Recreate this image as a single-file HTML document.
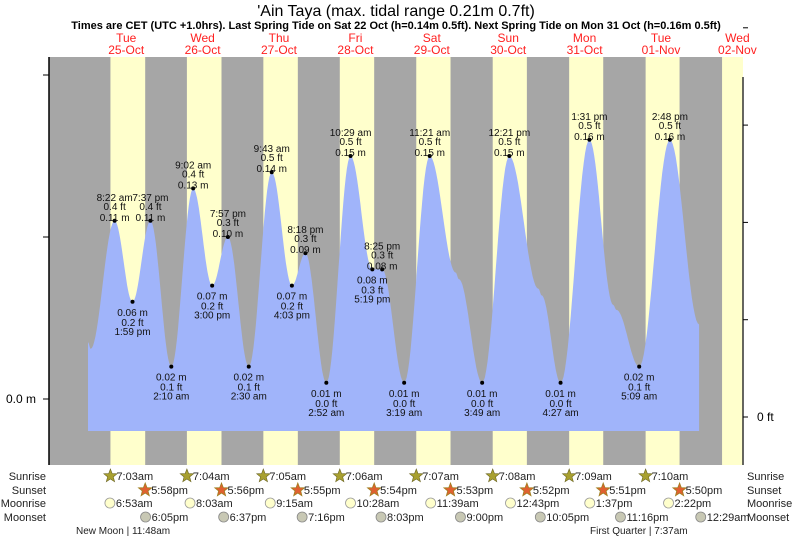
<!DOCTYPE html>
<html><head><meta charset="utf-8"><style>
body{margin:0;background:#fff;font-family:"Liberation Sans",sans-serif}
svg{display:block}
</style></head><body>
<svg id="c" width="793" height="539" xmlns="http://www.w3.org/2000/svg" font-family="Liberation Sans, sans-serif">
<text x="396" y="16" font-size="16" text-anchor="middle">'Ain Taya (max. tidal range 0.21m 0.7ft)</text>
<text x="396" y="29" font-size="11" font-weight="bold" text-anchor="middle">Times are CET (UTC +1.0hrs). Last Spring Tide on Sat 22 Oct (h=0.14m 0.5ft). Next Spring Tide on Mon 31 Oct (h=0.16m 0.5ft)</text>
<g id="bg"></g><g id="tide"></g><g id="labels"></g><g id="axes"></g><g id="bottom"></g>
</svg>
<script>
// ---- data ----
const dayNames = ["Tue","Wed","Thu","Fri","Sat","Sun","Mon","Tue","Wed"];
const dayDates = ["25-Oct","26-Oct","27-Oct","28-Oct","29-Oct","30-Oct","31-Oct","01-Nov","02-Nov"];
const sunriseTimes = ["7:03am","7:04am","7:05am","7:06am","7:07am","7:08am","7:09am","7:10am","7:11am"];
const sunsetTimes = ["5:58pm","5:56pm","5:55pm","5:54pm","5:53pm","5:52pm","5:51pm","5:50pm","5:49pm"];
const moonriseTimes = ["6:53am","8:03am","9:15am","10:28am","11:39am","12:43pm","1:37pm","2:22pm"];
const moonsetDays = [0,1,2,3,4,5,6,8];
const moonsetTimes = ["6:05pm","6:37pm","7:16pm","8:03pm","9:00pm","10:05pm","11:16pm","12:29am"];
// tide extremes
const tideDays =    [0,     0,      0,      0,      0,      1,      1,      1,      1,      2,      2,      2,      2,      3,      3,       3,      3,      4,      4,       4,      4,      5,      5,       5,      5,      6,      6,      6,      6,      7,      7,      7];
const tideTimes =   ["0:00am","12:50am","8:22am","1:59pm","7:37pm","2:10am","9:02am","3:00pm","7:57pm","2:30am","9:43am","4:03pm","8:18pm","2:52am","10:29am","5:19pm","8:25pm","3:19am","11:21am","7:30pm","8:30pm","3:49am","12:21pm","9:30pm","10:30pm","4:27am","1:31pm","9:00pm","10:00pm","5:09am","2:48pm","11:59pm"];
const tideHeights = [0.035, 0.031, 0.11,  0.06,  0.11,  0.02,  0.13,  0.07,  0.10,  0.02,  0.14,  0.07,  0.09,  0.01,  0.15,   0.08,  0.08,  0.01,  0.15,   0.078, 0.074, 0.01,  0.15,   0.068, 0.064, 0.01,  0.16,  0.058, 0.055, 0.02,  0.16,  0.046];
const tideIsHigh =  [0,0,1,0,1,0,1,0,1,0,1,0,1,0,1,0,1,0,1,1,0,0,1,1,0,0,1,1,0,0,1,0];
const tideLabelled = [0,0,1,1,1,1,1,1,1,1,1,1,1,1,1,1,1,1,1,0,0,1,1,0,0,1,1,0,0,1,1,0];
const yTicksM = [0.0, 0.1, 0.2];
const yTicksFt = [0, 0.2, 0.4, 0.6, 0.8];

// ---- scales ----
const X0 = 88, DAY = 76.4, Y0 = 399, PXM = 1620;
function parseT(s){const m=s.match(/(\d+):(\d+)(am|pm)/);let h=+m[1]%12;if(m[3]==="pm")h+=12;return (h+ +m[2]/60)/24;}
function xOf(day,t){return X0+(day+parseT(t))*DAY;}
function yOf(h){return Y0-h*PXM;}
const NS="http://www.w3.org/2000/svg";
function mk(tag,attrs,parent){const e=document.createElementNS(NS,tag);for(const k in attrs)e.setAttribute(k,attrs[k]);parent.appendChild(e);return e;}
const bg=document.getElementById('bg'),tide=document.getElementById('tide'),lab=document.getElementById('labels'),axes=document.getElementById('axes'),bot=document.getElementById('bottom');
const L=49,R=743,T=57,B=465;

let r=mk('rect',{x:L,y:T,width:R-L,height:B-T,fill:'#a6a6a6'},bg);


for(let i=0;i<dayNames.length;i++){
  const x1=xOf(i,sunriseTimes[i]),x2=Math.min(R,xOf(i,sunsetTimes[i]));
  const s=mk('rect',{x:x1,y:T,width:x2-x1,height:B-T,fill:'#ffffcc'},bg);
  
  
  const cx=X0+(i+0.5)*DAY;
  const t1=mk('text',{x:cx,y:42,'font-size':12,fill:'#ff2020','text-anchor':'middle'},bg);t1.textContent=dayNames[i];
  
  
  const t2=mk('text',{x:cx,y:54,'font-size':12,fill:'#ff2020','text-anchor':'middle'},bg);t2.textContent=dayDates[i];
  
  
}
// tide curve
const pts=tideDays.map((d,i)=>[xOf(d,tideTimes[i]),tideHeights[i]]);
let dstr='M'+pts[0][0].toFixed(1)+',431';
for(let i=0;i<pts.length-1;i++){
  const [xa,ha]=pts[i],[xb,hb]=pts[i+1];
  for(let k=0;k<=20;k++){const f=k/20;const h=ha+(hb-ha)*(1-Math.cos(Math.PI*f))/2;dstr+=' L'+(xa+(xb-xa)*f).toFixed(1)+','+yOf(h).toFixed(1);}
}
dstr+=' L'+pts[pts.length-1][0].toFixed(1)+',431 Z';
const p=mk('path',{d:dstr,fill:'#a0b4fa'},tide);


for(let i=0;i<pts.length;i++){
  if(!tideLabelled[i])continue;
  const [x,h]=pts[i],y=yOf(h);
  const isHigh=tideIsHigh[i]===1;
  const dot=mk('circle',{cx:x,cy:y,r:2,fill:'#000'},lab);
  
  
  const ft=(h*3.28084).toFixed(1)+' ft',m=h.toFixed(2)+' m',tm=tideTimes[i].replace(/(am|pm)/,' $1');
  const lines=isHigh?[[tm,-23],[ft,-14],[m,-3]]:[[m,11],[ft,21],[tm,30]];
  for(const [s,dy] of lines){const t=mk('text',{x:x,y:y+dy+3,'font-size':10,'text-anchor':'middle',fill:'#111'},lab);t.textContent=s;
    
    }
}
// axes
let a=mk('line',{x1:L,y1:T,x2:L,y2:B,stroke:'#000','stroke-width':1.5},axes);


a=mk('line',{x1:R,y1:77,x2:R,y2:B,stroke:'#333','stroke-width':1.5},axes);


yTicksM.forEach(v=>{const y=yOf(v);const tk=mk('line',{x1:L-6,y1:y,x2:L,y2:y,stroke:'#000'},axes);
  
  });
let t0=mk('text',{x:36,y:yOf(0)+4,'font-size':12,'text-anchor':'end'},axes);t0.textContent='0.0 m';


yTicksFt.forEach(v=>{const y=417-v/0.2*97.3;const tk=mk('line',{x1:R,y1:y,x2:R+5,y2:y,stroke:'#000'},axes);
  
  });
t0=mk('text',{x:757,y:421,'font-size':12},axes);t0.textContent='0 ft';


// bottom rows
const rows=[['Sunrise',480],['Sunset',494],['Moonrise',507],['Moonset',521]];
rows.forEach(([n,y])=>{
  let t=mk('text',{x:46,y:y,'font-size':11,'text-anchor':'end',fill:'#222'},bot);t.textContent=n;
  
  
  t=mk('text',{x:747,y:y,'font-size':11,fill:'#222'},bot);t.textContent=n;
  
  
});
function star(cx,cy){let d='';for(let k=0;k<10;k++){const rr=k%2?3:7,an=-Math.PI/2+k*Math.PI/5;d+=(k?'L':'M')+(cx+rr*Math.cos(an)).toFixed(1)+','+(cy+rr*Math.sin(an)).toFixed(1);}return d+'Z';}
for(let i=0;i<8;i++){
  let x=xOf(i,sunriseTimes[i]);
  let s=mk('path',{d:star(x,476),fill:'#a8a030',stroke:'#6a6420','stroke-width':0.6},bot);
  
  
  let t=mk('text',{x:x+6,y:480,'font-size':11,fill:'#222'},bot);t.textContent=sunriseTimes[i];
  
  
  x=xOf(i,sunsetTimes[i]);
  s=mk('path',{d:star(x,490),fill:'#e06030',stroke:'#a08020','stroke-width':0.8},bot);
  
  
  t=mk('text',{x:x+6,y:494,'font-size':11,fill:'#222'},bot);t.textContent=sunsetTimes[i];
  
  
  x=xOf(i,moonriseTimes[i]);
  s=mk('circle',{cx:x,cy:503,r:5,fill:'#ffffcc',stroke:'#999','stroke-width':0.8},bot);
  
  
  t=mk('text',{x:x+6,y:507,'font-size':11,fill:'#222'},bot);t.textContent=moonriseTimes[i];
  
  
  x=xOf(moonsetDays[i],moonsetTimes[i]);
  s=mk('circle',{cx:x,cy:517,r:5,fill:'#c8c8b4',stroke:'#888','stroke-width':0.8},bot);
  
  
  t=mk('text',{x:x+6,y:521,'font-size':11,fill:'#222'},bot);t.textContent=moonsetTimes[i];
  
  
}
let ph=mk('text',{x:76,y:534,'font-size':10,fill:'#222'},bot);ph.textContent='New Moon | 11:48am';


ph=mk('text',{x:590,y:534,'font-size':10,fill:'#222'},bot);ph.textContent='First Quarter | 7:37am';


</script>
</body></html>
